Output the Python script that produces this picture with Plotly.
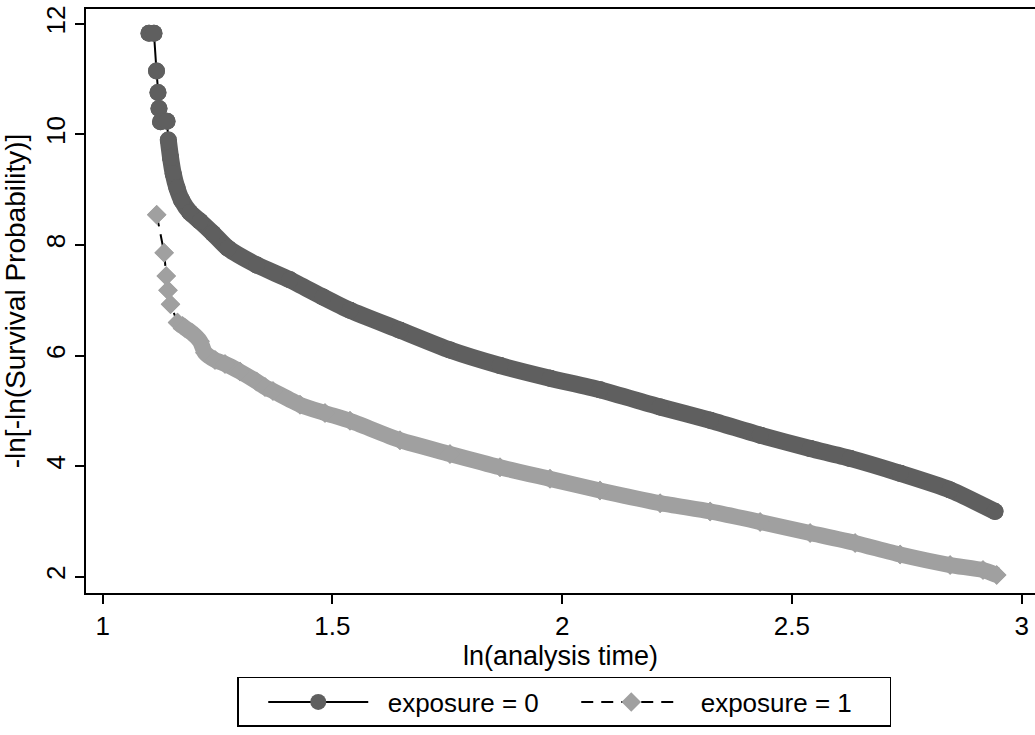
import plotly.graph_objects as go

# exposure = 0
x0 = [1.1008, 1.1116, 1.1171, 1.1203, 1.1225, 1.1258, 1.1400, 1.1428, 1.1476, 1.1536,
      1.1617, 1.1719, 1.1900, 1.2118, 1.2400, 1.2727, 1.3351, 1.4076, 1.4794, 1.5382,
      1.6470, 1.7558, 1.8647, 1.9735, 2.0823, 2.2132, 2.3220, 2.4308, 2.5396, 2.6267,
      2.7355, 2.8443, 2.9419]
y0 = [11.83, 11.83, 11.15, 10.76, 10.47, 10.23, 10.24, 9.90, 9.59, 9.29,
      9.03, 8.81, 8.59, 8.43, 8.21, 7.94, 7.64, 7.37, 7.06, 6.82,
      6.46, 6.10, 5.82, 5.59, 5.38, 5.07, 4.83, 4.56, 4.32, 4.14,
      3.87, 3.57, 3.18]

# exposure = 1
x1 = [1.1175, 1.1338, 1.1384, 1.1421, 1.1476, 1.1628, 1.1791, 1.1943, 1.2118, 1.2226,
      1.2444, 1.2662, 1.2988, 1.3351, 1.3532, 1.3706, 1.4295, 1.4838, 1.5382, 1.6470,
      1.7558, 1.8647, 1.9735, 2.0823, 2.2132, 2.3220, 2.4308, 2.5396, 2.6376,
      2.7355, 2.8443, 2.9158, 2.9456]
y1 = [8.55, 7.86, 7.44, 7.18, 6.93, 6.60, 6.50, 6.41, 6.26, 6.05,
      5.92, 5.85, 5.71, 5.53, 5.43, 5.36, 5.11, 4.96, 4.82, 4.47,
      4.22, 3.98, 3.77, 3.56, 3.33, 3.18, 2.99, 2.79, 2.61,
      2.40, 2.21, 2.12, 2.03]

xticks = [1, 1.5, 2, 2.5, 3]
yticks = [2, 4, 6, 8, 10, 12]
labels = ["exposure = 0", "exposure = 1"]

c0 = "#5f5f5f"
c1 = "#a0a0a0"
FONT = "Liberation Sans, Arial, sans-serif"
NB = "\u00a0"

fig = go.Figure()
# legend-carrying traces (thin black connecting lines)
fig.add_trace(go.Scatter(x=x0, y=y0, mode="lines+markers", name=NB * 2 + labels[0],
                         line=dict(color="black", width=2),
                         marker=dict(symbol="circle", size=17, color=c0)))
fig.add_trace(go.Scatter(x=x1, y=y1, mode="lines+markers", name=NB * 2 + labels[1],
                         line=dict(color="black", width=2, dash="12px,8px"),
                         marker=dict(symbol="diamond", size=15, color=c1)))
# dense bands
fig.add_trace(go.Scatter(x=x0[7:], y=y0[7:], mode="lines", showlegend=False,
                         line=dict(color=c0, width=17, shape="spline", smoothing=0.6),
                         hoverinfo="skip"))
fig.add_trace(go.Scatter(x=x1[5:], y=y1[5:], mode="lines", showlegend=False,
                         line=dict(color=c1, width=16, shape="spline", smoothing=0.6),
                         hoverinfo="skip"))
# markers on top
fig.add_trace(go.Scatter(x=x0, y=y0, mode="markers", showlegend=False,
                         marker=dict(symbol="circle", size=17, color=c0)))
fig.add_trace(go.Scatter(x=x1, y=y1, mode="markers", showlegend=False,
                         marker=dict(symbol="diamond", size=15, color=c1)))

fig.update_layout(
    width=1035, height=735,
    margin=dict(l=86, r=0, t=9, b=142, autoexpand=False),
    paper_bgcolor="white", plot_bgcolor="white",
    font=dict(family=FONT, size=26, color="black"),
    xaxis=dict(range=[0.9637, 3.029], tickvals=xticks, ticktext=[str(v) for v in xticks],
               showline=True, linecolor="black", linewidth=2, mirror=True,
               ticks="outside", ticklen=9, tickwidth=1.5, tickcolor="black",
               showgrid=False, zeroline=False, automargin=False,
               title=dict(text="ln(analysis time)", font=dict(size=27), standoff=2),
               tickfont=dict(size=26)),
    yaxis=dict(range=[1.705, 12.27], tickvals=yticks, ticktext=[str(v) for v in yticks],
               showline=True, linecolor="black", linewidth=2,
               ticks="outside", ticklen=9, tickwidth=1.5, tickcolor="black",
               tickangle=-90, showgrid=False, zeroline=False, automargin=False,
               title=dict(text="-ln[-ln(Survival Probability)]", font=dict(size=28), standoff=8),
               tickfont=dict(size=26)),
    legend=dict(orientation="h", x=0.504, xanchor="center", y=-0.1438, yanchor="top",
                bordercolor="black", borderwidth=1.5, font=dict(size=26),
                itemwidth=100, entrywidth=198, entrywidthmode="pixels",
                title=dict(text=NB * 2, side="left", font=dict(size=26)),
                traceorder="normal"),
)

fig.write_html("out.html", config={"displayModeBar": False},
               post_script="document.body.style.margin='0';")
